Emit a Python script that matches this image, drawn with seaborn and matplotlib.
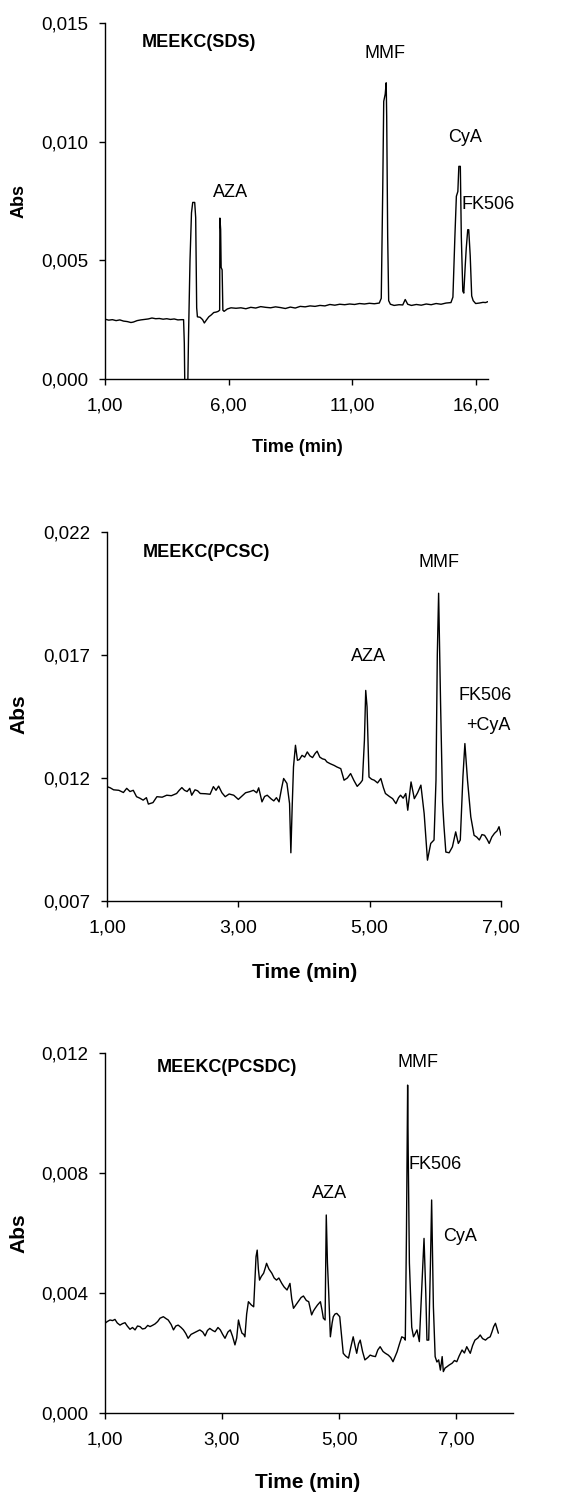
import matplotlib.pyplot as plt
import seaborn as sns
from matplotlib.ticker import FuncFormatter

sns.set_style("ticks")
plt.rcParams['font.family'] = ['Liberation Sans', 'DejaVu Sans']
plt.rcParams['text.color'] = 'black'
plt.rcParams['axes.labelcolor'] = 'black'

# Electroferograma MEEKC(SDS)
sds_t = [1.00, 1.15, 1.30, 1.45, 1.60, 1.75, 1.90, 2.05, 2.15, 2.30, 2.45, 2.60, 2.75, 2.90,
         3.05, 3.20, 3.35, 3.50, 3.65, 3.80, 3.95, 4.10, 4.18, 4.21, 4.23, 4.35, 4.38, 4.44,
         4.50, 4.55, 4.63, 4.67, 4.71, 4.74, 4.85, 4.95, 5.02, 5.10, 5.20, 5.30, 5.40, 5.50,
         5.58, 5.64, 5.65, 5.68, 5.70, 5.74, 5.77, 5.82, 5.95, 6.10, 6.30, 6.50, 6.70, 6.90,
         7.10, 7.30, 7.50, 7.70, 7.90, 8.10, 8.30, 8.50, 8.70, 8.90, 9.10, 9.30, 9.50, 9.70,
         9.90, 10.10, 10.30, 10.50, 10.70, 10.90, 11.10, 11.30, 11.50, 11.70, 11.90, 12.10,
         12.18, 12.24, 12.28, 12.34, 12.38, 12.40, 12.44, 12.48, 12.55, 12.70, 12.90, 13.05,
         13.15, 13.25, 13.40, 13.60, 13.80, 14.00, 14.20, 14.40, 14.60, 14.80, 15.00, 15.08,
         15.16, 15.22, 15.28, 15.32, 15.38, 15.42, 15.48, 15.52, 15.58, 15.62, 15.68, 15.72,
         15.78, 15.84, 15.90, 16.00, 16.15, 16.30, 16.40, 16.50]
sds_abs = [0.00252, 0.00248, 0.00250, 0.00246, 0.00249, 0.00244, 0.00242, 0.00238, 0.00240,
           0.00246, 0.00249, 0.00251, 0.00253, 0.00257, 0.00254, 0.00255, 0.00252, 0.00254,
           0.00251, 0.00253, 0.00249, 0.00250, 0.00250, 0.00150, -0.0003, -0.0003, 0.00180,
           0.00500, 0.00700, 0.00744, 0.00744, 0.00680, 0.00300, 0.00262, 0.00260, 0.00250,
           0.00236, 0.00248, 0.00262, 0.00270, 0.00280, 0.00282, 0.00285, 0.00290, 0.00678,
           0.00630, 0.00470, 0.00460, 0.00290, 0.00285, 0.00295, 0.00300, 0.00298, 0.00300,
           0.00296, 0.00302, 0.00299, 0.00305, 0.00302, 0.00300, 0.00304, 0.00301, 0.00297,
           0.00303, 0.00299, 0.00306, 0.00304, 0.00308, 0.00306, 0.00310, 0.00308, 0.00314,
           0.00311, 0.00315, 0.00313, 0.00316, 0.00314, 0.00318, 0.00316, 0.00319, 0.00317,
           0.00320, 0.00340, 0.00800, 0.01170, 0.01200, 0.01248, 0.01107, 0.00600, 0.00330,
           0.00315, 0.00310, 0.00313, 0.00312, 0.00335, 0.00315, 0.00310, 0.00314, 0.00311,
           0.00316, 0.00313, 0.00318, 0.00315, 0.00320, 0.00322, 0.00345, 0.00600, 0.00770,
           0.00790, 0.00896, 0.00896, 0.00600, 0.00370, 0.00362, 0.00480, 0.00551, 0.00629,
           0.00629, 0.00520, 0.00350, 0.00330, 0.00318, 0.00320, 0.00323, 0.00322, 0.00326]

# Electroferograma MEEKC(PCSC)
pcsc_t = [1.00, 1.05, 1.10, 1.18, 1.25, 1.30, 1.35, 1.40, 1.45, 1.50, 1.55, 1.60, 1.63, 1.70,
          1.76, 1.84, 1.91, 1.98, 2.06, 2.10, 2.14, 2.18, 2.22, 2.26, 2.29, 2.34, 2.38, 2.42,
          2.50, 2.57, 2.62, 2.66, 2.70, 2.75, 2.80, 2.86, 2.93, 3.00, 3.05, 3.11, 3.18, 3.23,
          3.28, 3.31, 3.36, 3.40, 3.44, 3.50, 3.54, 3.58, 3.62, 3.66, 3.69, 3.74, 3.78, 3.80,
          3.82, 3.84, 3.87, 3.90, 3.93, 3.97, 4.01, 4.05, 4.09, 4.13, 4.17, 4.20, 4.24, 4.28,
          4.32, 4.35, 4.40, 4.46, 4.50, 4.56, 4.61, 4.66, 4.71, 4.76, 4.81, 4.86, 4.89, 4.92,
          4.94, 4.96, 4.99, 5.03, 5.07, 5.12, 5.17, 5.21, 5.24, 5.30, 5.35, 5.40, 5.44, 5.47,
          5.51, 5.55, 5.58, 5.63, 5.68, 5.73, 5.78, 5.83, 5.88, 5.93, 5.98, 6.01, 6.03, 6.05,
          6.08, 6.11, 6.13, 6.16, 6.21, 6.26, 6.31, 6.35, 6.38, 6.42, 6.45, 6.49, 6.54, 6.59,
          6.63, 6.67, 6.71, 6.75, 6.79, 6.82, 6.86, 6.90, 6.94, 6.97, 7.00]
pcsc_abs = [0.01165, 0.01160, 0.01152, 0.01150, 0.01141, 0.01158, 0.01145, 0.01150, 0.01124,
            0.01118, 0.01110, 0.01120, 0.01094, 0.01100, 0.01124, 0.01122, 0.01130, 0.01128,
            0.01137, 0.01150, 0.01161, 0.01150, 0.01145, 0.01158, 0.01130, 0.01152, 0.01148,
            0.01137, 0.01136, 0.01134, 0.01165, 0.01150, 0.01167, 0.01140, 0.01124, 0.01135,
            0.01130, 0.01113, 0.01125, 0.01140, 0.01145, 0.01150, 0.01140, 0.01160, 0.01103,
            0.01125, 0.01130, 0.01115, 0.01107, 0.01120, 0.01103, 0.01160, 0.01198, 0.01178,
            0.01096, 0.00896, 0.01083, 0.01245, 0.01333, 0.01272, 0.01275, 0.01292, 0.01285,
            0.01306, 0.01290, 0.01283, 0.01300, 0.01309, 0.01285, 0.01278, 0.01275, 0.01265,
            0.01258, 0.01251, 0.01245, 0.01238, 0.01191, 0.01200, 0.01218, 0.01190, 0.01166,
            0.01180, 0.01191, 0.01353, 0.01556, 0.01489, 0.01204, 0.01195, 0.01191, 0.01180,
            0.01198, 0.01160, 0.01137, 0.01125, 0.01116, 0.01096, 0.01120, 0.01130, 0.01118,
            0.01137, 0.01069, 0.01184, 0.01116, 0.01140, 0.01171, 0.01055, 0.00866, 0.00934,
            0.00948, 0.01191, 0.01700, 0.01951, 0.01500, 0.01103, 0.01010, 0.00899, 0.00896,
            0.00920, 0.00981, 0.00934, 0.00948, 0.01204, 0.01340, 0.01191, 0.01042, 0.00967,
            0.00960, 0.00948, 0.00970, 0.00967, 0.00950, 0.00934, 0.00960, 0.00975, 0.00985,
            0.01002, 0.00967]

# Electroferograma MEEKC(PCSDC)
pcsdc_t = [1.00, 1.04, 1.085, 1.13, 1.17, 1.21, 1.256, 1.30, 1.342, 1.38, 1.427, 1.47, 1.513,
           1.555, 1.598, 1.64, 1.684, 1.73, 1.769, 1.81, 1.855, 1.90, 1.94, 1.997, 2.04, 2.08,
           2.13, 2.17, 2.21, 2.25, 2.30, 2.34, 2.38, 2.42, 2.47, 2.51, 2.57, 2.62, 2.67, 2.71,
           2.75, 2.79, 2.84, 2.88, 2.93, 2.97, 3.01, 3.05, 3.10, 3.14, 3.18, 3.22, 3.25, 3.28,
           3.31, 3.34, 3.37, 3.39, 3.42, 3.45, 3.50, 3.54, 3.56, 3.58, 3.60, 3.62, 3.64, 3.67,
           3.71, 3.74, 3.76, 3.80, 3.85, 3.89, 3.93, 3.97, 4.02, 4.06, 4.11, 4.16, 4.19, 4.22,
           4.26, 4.30, 4.35, 4.39, 4.44, 4.48, 4.53, 4.56, 4.59, 4.63, 4.68, 4.71, 4.73, 4.76,
           4.77, 4.78, 4.80, 4.82, 4.85, 4.88, 4.90, 4.93, 4.96, 5.01, 5.04, 5.07, 5.11, 5.16,
           5.20, 5.24, 5.27, 5.30, 5.33, 5.36, 5.40, 5.44, 5.49, 5.53, 5.57, 5.62, 5.66, 5.70,
           5.75, 5.79, 5.84, 5.88, 5.92, 5.96, 5.99, 6.03, 6.07, 6.11, 6.13, 6.15, 6.17, 6.18,
           6.20, 6.24, 6.27, 6.30, 6.33, 6.37, 6.41, 6.45, 6.48, 6.50, 6.53, 6.56, 6.58, 6.61,
           6.64, 6.67, 6.70, 6.73, 6.76, 6.78, 6.81, 6.84, 6.88, 6.93, 6.97, 7.01, 7.05, 7.10,
           7.14, 7.18, 7.24, 7.28, 7.32, 7.37, 7.41, 7.45, 7.50, 7.54, 7.58, 7.61, 7.64, 7.67,
           7.72]
pcsdc_abs = [0.00299, 0.00305, 0.00310, 0.00308, 0.00312, 0.00300, 0.00293, 0.00298, 0.00301,
             0.00290, 0.00279, 0.00285, 0.00277, 0.00290, 0.00288, 0.00280, 0.00282, 0.00292,
             0.00288, 0.00292, 0.00297, 0.00305, 0.00316, 0.00321, 0.00315, 0.00310, 0.00295,
             0.00277, 0.00290, 0.00293, 0.00285, 0.00277, 0.00265, 0.00249, 0.00262, 0.00266,
             0.00272, 0.00277, 0.00270, 0.00257, 0.00275, 0.00282, 0.00275, 0.00271, 0.00285,
             0.00277, 0.00262, 0.00249, 0.00270, 0.00277, 0.00255, 0.00227, 0.00250, 0.00310,
             0.00285, 0.00266, 0.00262, 0.00254, 0.00330, 0.00371, 0.00360, 0.00354, 0.00440,
             0.00521, 0.00543, 0.00480, 0.00443, 0.00455, 0.00466, 0.00485, 0.00499, 0.00480,
             0.00466, 0.00450, 0.00443, 0.00450, 0.00432, 0.00420, 0.00410, 0.00432, 0.00380,
             0.00349, 0.00360, 0.00371, 0.00385, 0.00390, 0.00375, 0.00371, 0.00327, 0.00340,
             0.00349, 0.00360, 0.00371, 0.00340, 0.00316, 0.00310, 0.00500, 0.00660, 0.00500,
             0.00410, 0.00254, 0.00300, 0.00321, 0.00330, 0.00332, 0.00321, 0.00260, 0.00199,
             0.00190, 0.00183, 0.00220, 0.00254, 0.00225, 0.00199, 0.00230, 0.00243, 0.00205,
             0.00177, 0.00185, 0.00193, 0.00190, 0.00188, 0.00210, 0.00221, 0.00205, 0.00199,
             0.00193, 0.00185, 0.00171, 0.00190, 0.00204, 0.00230, 0.00254, 0.00250, 0.00243,
             0.00600, 0.01093, 0.00866, 0.00500, 0.00286, 0.00254, 0.00265, 0.00277, 0.00238,
             0.00410, 0.00582, 0.00400, 0.00243, 0.00243, 0.00500, 0.00710, 0.00354, 0.00188,
             0.00170, 0.00177, 0.00143, 0.00188, 0.00138, 0.00150, 0.00154, 0.00160, 0.00166,
             0.00175, 0.00171, 0.00190, 0.00210, 0.00200, 0.00221, 0.00199, 0.00225, 0.00243,
             0.00250, 0.00260, 0.00248, 0.00243, 0.00250, 0.00254, 0.00270, 0.00288, 0.00299,
             0.00266]

W, H = 564, 1495
fig = plt.figure(figsize=(W / 100, H / 100), dpi=100)


def coma(dec):
    return FuncFormatter(lambda v, pos: f"{v:.{dec}f}".replace(".", ","))


def caja(izq, der, arriba, abajo):
    return fig.add_axes([izq / W, 1 - abajo / H, (der - izq) / W, (abajo - arriba) / H])


def graficar(ax, t, a, xlim, ylim, xticks, yticks, titulo, etiquetas, px,
             fs_eje=13, fs_xtick=13.5):
    sns.lineplot(x=t, y=a, ax=ax, color='black', lw=1.0, estimator=None, sort=False)
    ax.set_xlim(xlim)
    ax.set_ylim(ylim)
    ax.set_xticks(xticks)
    ax.set_yticks(yticks)
    ax.xaxis.set_major_formatter(coma(2))
    ax.yaxis.set_major_formatter(coma(3))
    ax.tick_params(direction='out', length=4, width=1, labelsize=13.5, color='black',
                   labelcolor='black')
    ax.tick_params(axis='x', pad=9, labelsize=fs_xtick)
    ax.tick_params(axis='y', pad=8)
    sns.despine(ax=ax)
    for s in ['left', 'bottom']:
        ax.spines[s].set_linewidth(1)
        ax.spines[s].set_color('black')
    # etiquetas de ejes (posición en píxeles de la figura)
    xc, xy, yx, yc = px
    ax.set_xlabel('Time (min)', fontsize=fs_eje, fontweight='bold', va='center', color='black')
    ax.xaxis.set_label_coords(xc / W, 1 - xy / H, transform=fig.transFigure)
    ax.set_ylabel('Abs', fontsize=fs_eje, fontweight='bold', va='center', color='black')
    ax.yaxis.set_label_coords(yx / W, 1 - yc / H, transform=fig.transFigure)
    ax.text(titulo[1], titulo[2], titulo[0], fontsize=13, fontweight='bold',
            ha='left', va='center', color='black')
    for txt, x, y, ha in etiquetas:
        ax.text(x, y, txt, fontsize=13, ha=ha, va='center', color='black')


ax1 = caja(105, 488, 23, 379)
graficar(ax1, sds_t, sds_abs, (1, 16.5), (0, 0.015), [1, 6, 11, 16],
         [0, 0.005, 0.010, 0.015], ('MEEKC(SDS)', 2.50, 0.01418),
         [('MMF', 12.32, 0.01371, 'center'), ('CyA', 15.59, 0.01017, 'center'),
          ('AZA', 6.09, 0.00785, 'center'), ('FK506', 15.43, 0.00734, 'left')],
         (297, 447, 19, 201))

ax2 = caja(107, 501, 532, 901)
graficar(ax2, pcsc_t, pcsc_abs, (1, 7), (0.007, 0.022), [1, 3, 5, 7],
         [0.007, 0.012, 0.017, 0.022], ('MEEKC(PCSC)', 1.55, 0.02115),
         [('MMF', 6.05, 0.02078, 'center'), ('AZA', 4.98, 0.01692, 'center'),
          ('FK506', 6.76, 0.01537, 'center'), ('+CyA', 6.80, 0.01415, 'center')],
         (305, 972, 19, 714), fs_eje=15, fs_xtick=14)

ax3 = caja(105, 513, 1053, 1413)
graficar(ax3, pcsdc_t, pcsdc_abs, (1, 7.97), (0, 0.012), [1, 3, 5, 7],
         [0, 0.004, 0.008, 0.012], ('MEEKC(PCSDC)', 1.89, 0.0115),
         [('MMF', 6.35, 0.01167, 'center'), ('FK506', 6.18, 0.00827, 'left'),
          ('AZA', 4.83, 0.00733, 'center'), ('CyA', 6.78, 0.00587, 'left')],
         (308, 1483, 19, 1233), fs_eje=15)

fig.savefig('out.png', dpi=100)
